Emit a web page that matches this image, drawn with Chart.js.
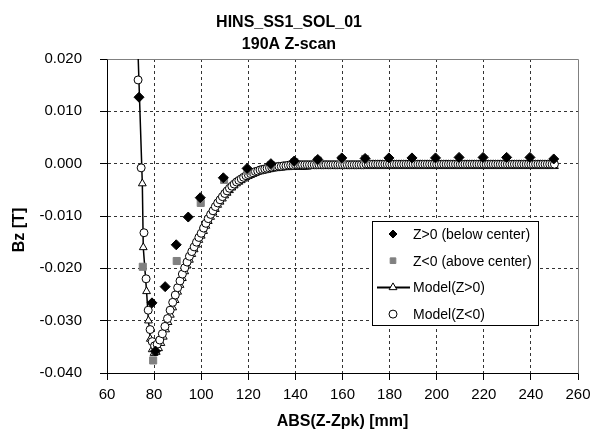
<!DOCTYPE html>
<html>
<head>
<meta charset="utf-8">
<script src="https://cdn.jsdelivr.net/npm/chart.js@4.4.1/dist/chart.umd.min.js"></script>
<style>
  html, body { margin: 0; padding: 0; background: #fff; }
  #wrap { width: 597px; height: 446px; }
</style>
</head>
<body>
<div id="wrap"><canvas id="chart" width="597" height="446"></canvas></div>
<script>
// Datos (Bz en T, posición en mm)
const xTicks = [60, 80, 100, 120, 140, 160, 180, 200, 220, 240, 260];
const yTicks = [-0.04, -0.03, -0.02, -0.01, 0.0, 0.01, 0.02];

// Medición Z>0 (debajo del centro)
const measPosX = [73.6, 79.1, 80.6, 84.7, 89.4, 94.5, 99.6, 109.4, 119.5, 129.6, 139.5, 149.5, 159.7, 169.6, 179.7, 189.5, 199.5, 209.5, 219.7, 229.7, 239.6, 249.7];
const measPosB = [0.0127, -0.0266, -0.0358, -0.0235, -0.0155, -0.0102, -0.0065, -0.0027, -0.0009, 0.0000, 0.0005, 0.0008, 0.0011, 0.0010, 0.0011, 0.0011, 0.0011, 0.0012, 0.0012, 0.0012, 0.0012, 0.0009];

// Medición Z<0 (encima del centro)
const measNegX = [75.2, 79.6, 89.6, 99.8, 109.7, 119.6, 129.6, 139.6, 149.5, 159.6, 169.6];
const measNegB = [-0.0197, -0.0376, -0.0186, -0.0075, -0.0031, -0.0014, -0.0003, 0.0003, 0.0006, 0.0008, 0.0009];

// Modelo: tramo inicial (cerca del pico) de cada curva
const modelPosLeftX = [72.6, 75.0, 75.4, 76.8, 77.6, 78.4, 79.2, 80.0, 80.9, 81.9, 82.9, 83.9, 84.9, 85.9, 86.9, 87.9, 88.9];
const modelPosLeftB = [0.0290, -0.0038, -0.0160, -0.0244, -0.0300, -0.0335, -0.0355, -0.0362, -0.0360, -0.0353, -0.0343, -0.0331, -0.0317, -0.0303, -0.0289, -0.0275, -0.0261];
const modelNegLeftX = [73.2, 74.5, 75.7, 76.6, 77.5, 78.3, 79.2, 80.2, 81.3, 82.4, 83.5, 84.6, 85.7, 86.8, 87.9, 89.0];
const modelNegLeftB = [0.0160, -0.0008, -0.0132, -0.0220, -0.0280, -0.0317, -0.0340, -0.0348, -0.0345, -0.0337, -0.0325, -0.0311, -0.0296, -0.0280, -0.0265, -0.0251];

// Modelo: resto de la curva, cada 1 mm
const modelTailX = [
  90, 91, 92, 93, 94, 95, 96, 97, 98, 99,
  100, 101, 102, 103, 104, 105, 106, 107, 108, 109,
  110, 111, 112, 113, 114, 115, 116, 117, 118, 119,
  120, 121, 122, 123, 124, 125, 126, 127, 128, 129,
  130, 131, 132, 133, 134, 135, 136, 137, 138, 139,
  140, 141, 142, 143, 144, 145, 146, 147, 148, 149,
  150, 151, 152, 153, 154, 155, 156, 157, 158, 159,
  160, 161, 162, 163, 164, 165, 166, 167, 168, 169,
  170, 171, 172, 173, 174, 175, 176, 177, 178, 179,
  180, 181, 182, 183, 184, 185, 186, 187, 188, 189,
  190, 191, 192, 193, 194, 195, 196, 197, 198, 199,
  200, 201, 202, 203, 204, 205, 206, 207, 208, 209,
  210, 211, 212, 213, 214, 215, 216, 217, 218, 219,
  220, 221, 222, 223, 224, 225, 226, 227, 228, 229,
  230, 231, 232, 233, 234, 235, 236, 237, 238, 239,
  240, 241, 242, 243, 244, 245, 246, 247, 248, 249,
  250
];
const modelPosTailB = [
  -0.0245, -0.0232, -0.0219, -0.0206, -0.0195, -0.0184, -0.0173, -0.0164, -0.0155, -0.0146,
  -0.0138, -0.0129, -0.0119, -0.0110, -0.0102, -0.0094, -0.0087, -0.0079, -0.0073, -0.0067,
  -0.0061, -0.0056, -0.0051, -0.0046, -0.0042, -0.0038, -0.0035, -0.0032, -0.0029, -0.0026,
  -0.0024, -0.0022, -0.0020, -0.0018, -0.0016, -0.0015, -0.0014, -0.0013, -0.0012, -0.0011,
  -0.0010, -0.0009, -0.0009, -0.0008, -0.0008, -0.0007, -0.0007, -0.0007, -0.0006, -0.0006,
  -0.0006, -0.0006, -0.0006, -0.0006, -0.0006, -0.0006, -0.0005, -0.0005, -0.0005, -0.0005,
  -0.0005, -0.0005, -0.0005, -0.0005, -0.0005, -0.0005, -0.0005, -0.0005, -0.0005, -0.0005,
  -0.0005, -0.0005, -0.0005, -0.0005, -0.0005, -0.0005, -0.0005, -0.0005, -0.0005, -0.0005,
  -0.0005, -0.0005, -0.0005, -0.0005, -0.0005, -0.0005, -0.0005, -0.0005, -0.0005, -0.0005,
  -0.0005, -0.0005, -0.0005, -0.0005, -0.0005, -0.0005, -0.0005, -0.0005, -0.0005, -0.0005,
  -0.0005, -0.0005, -0.0005, -0.0005, -0.0005, -0.0005, -0.0005, -0.0005, -0.0005, -0.0005,
  -0.0005, -0.0005, -0.0005, -0.0005, -0.0005, -0.0005, -0.0005, -0.0005, -0.0005, -0.0005,
  -0.0005, -0.0005, -0.0005, -0.0005, -0.0005, -0.0005, -0.0005, -0.0005, -0.0005, -0.0005,
  -0.0005, -0.0005, -0.0005, -0.0005, -0.0005, -0.0005, -0.0005, -0.0005, -0.0005, -0.0005,
  -0.0005, -0.0005, -0.0005, -0.0005, -0.0005, -0.0005, -0.0005, -0.0005, -0.0005, -0.0005,
  -0.0005, -0.0005, -0.0005, -0.0005, -0.0005, -0.0005, -0.0005, -0.0005, -0.0005, -0.0005,
  -0.0005
];
const modelNegTailB = [
  -0.0237, -0.0224, -0.0211, -0.0199, -0.0188, -0.0177, -0.0168, -0.0159, -0.0150, -0.0141,
  -0.0133, -0.0123, -0.0114, -0.0105, -0.0097, -0.0090, -0.0082, -0.0075, -0.0069, -0.0063,
  -0.0057, -0.0052, -0.0047, -0.0043, -0.0039, -0.0035, -0.0032, -0.0029, -0.0026, -0.0023,
  -0.0021, -0.0019, -0.0017, -0.0015, -0.0014, -0.0012, -0.0011, -0.0010, -0.0009, -0.0008,
  -0.0007, -0.0006, -0.0006, -0.0005, -0.0005, -0.0004, -0.0004, -0.0003, -0.0003, -0.0003,
  -0.0002, -0.0002, -0.0002, -0.0002, -0.0002, -0.0002, -0.0002, -0.0002, -0.0002, -0.0002,
  -0.0002, -0.0002, -0.0002, -0.0002, -0.0002, -0.0002, -0.0002, -0.0002, -0.0002, -0.0002,
  -0.0002, -0.0002, -0.0002, -0.0002, -0.0002, -0.0002, -0.0002, -0.0002, -0.0002, -0.0002,
  -0.0001, -0.0001, -0.0001, -0.0001, -0.0001, -0.0001, -0.0001, -0.0001, -0.0001, -0.0001,
  -0.0001, -0.0001, -0.0001, -0.0001, -0.0001, -0.0001, -0.0001, -0.0001, -0.0001, -0.0001,
  -0.0001, -0.0001, -0.0001, -0.0001, -0.0001, -0.0001, -0.0001, -0.0001, -0.0001, -0.0001,
  -0.0001, -0.0001, -0.0001, -0.0001, -0.0001, -0.0001, -0.0001, -0.0001, -0.0001, -0.0001,
  -0.0001, -0.0001, -0.0001, -0.0001, -0.0001, -0.0001, -0.0001, -0.0001, -0.0001, -0.0001,
  -0.0001, -0.0001, -0.0001, -0.0001, -0.0001, -0.0001, -0.0001, -0.0001, -0.0001, -0.0001,
  -0.0001, -0.0001, -0.0001, -0.0001, -0.0001, -0.0001, -0.0001, -0.0001, -0.0001, -0.0001,
  -0.0001, -0.0001, -0.0001, -0.0001, -0.0001, -0.0001, -0.0001, -0.0001, -0.0001, -0.0001,
  -0.0001
];

const FONT = "'Liberation Sans', Arial, sans-serif";
const GRAY = '#808080';

// Une arrays x / y en puntos {x, y} para el scatter
function toPoints(xs, ys) {
    return xs.map((x, i) => ({ x, y: ys[i] }));
}

// Leyenda dentro del área de la gráfica (recuadro con borde negro)
const legendRows = [
    { text: 'Z>0 (below center)', style: 'rectRot', radius: 4, fill: '#000', stroke: '#000' },
    { text: 'Z<0 (above center)', style: 'rect', radius: 4, fill: GRAY, stroke: GRAY },
    { text: 'Model(Z>0)', style: 'triangle', radius: 4.5, fill: '#fff', stroke: '#000', line: true },
    { text: 'Model(Z<0)', style: 'circle', radius: 4, fill: '#fff', stroke: '#000' }
];

const boxLegend = {
    id: 'boxLegend',
    beforeDatasetsDraw(chart) {
        // borde gris del área de trazado (arriba y derecha)
        const { ctx, chartArea: a } = chart;
        ctx.save();
        ctx.strokeStyle = GRAY;
        ctx.lineWidth = 1;
        ctx.beginPath();
        ctx.moveTo(Math.round(a.left) + 0.5, Math.round(a.top) + 0.5);
        ctx.lineTo(Math.round(a.right) + 0.5, Math.round(a.top) + 0.5);
        ctx.lineTo(Math.round(a.right) + 0.5, Math.round(a.bottom) + 0.5);
        ctx.stroke();
        // título del eje Y (en el original va algo por debajo del centro)
        ctx.translate(20, 230);
        ctx.rotate(-Math.PI / 2);
        ctx.fillStyle = '#000';
        ctx.font = 'bold 16px ' + FONT;
        ctx.textAlign = 'center';
        ctx.textBaseline = 'middle';
        ctx.fillText('Bz [T]', 0, 0);
        ctx.restore();
    },
    afterDatasetsDraw(chart) {
        const ctx = chart.ctx;
        ctx.save();
        ctx.fillStyle = '#fff';
        ctx.fillRect(372.5, 221.5, 166, 104);
        ctx.strokeStyle = '#000';
        ctx.lineWidth = 1;
        ctx.strokeRect(372.5, 221.5, 166, 104);
        legendRows.forEach((row, i) => {
            const y = 234 + i * 26.7;
            if (row.line) {
                ctx.strokeStyle = '#000';
                ctx.lineWidth = 2;
                ctx.beginPath();
                ctx.moveTo(377, y);
                ctx.lineTo(410, y);
                ctx.stroke();
            }
            ctx.fillStyle = row.fill;
            ctx.strokeStyle = row.stroke;
            ctx.lineWidth = 1;
            Chart.helpers.drawPoint(ctx, { pointStyle: row.style, radius: row.radius, borderWidth: 1, rotation: 0 }, 393, y);
            ctx.fillStyle = '#000';
            ctx.font = '14px ' + FONT;
            ctx.textAlign = 'left';
            ctx.textBaseline = 'middle';
            ctx.fillText(row.text, 413, y + 1);
        });
        ctx.restore();
    }
};

new Chart(document.getElementById('chart'), {
    type: 'scatter',
    data: {
        datasets: [
            {
                label: 'Z>0 (below center)',
                data: toPoints(measPosX, measPosB),
                pointStyle: 'rectRot', pointRadius: 5, backgroundColor: '#000', borderColor: '#000', borderWidth: 1,
                showLine: false, order: 0
            },
            {
                label: 'Z<0 (above center)',
                data: toPoints(measNegX, measNegB),
                pointStyle: 'rect', pointRadius: 5, backgroundColor: GRAY, borderColor: GRAY, borderWidth: 1,
                showLine: false, order: 1
            },
            {
                label: 'Model(Z>0)',
                data: toPoints(modelPosLeftX.concat(modelTailX), modelPosLeftB.concat(modelPosTailB)),
                pointStyle: 'triangle', pointRadius: 4.5, pointBackgroundColor: '#fff', pointBorderColor: '#000', pointBorderWidth: 1,
                borderColor: '#000', borderWidth: 1.5, showLine: true, tension: 0, order: 3
            },
            {
                label: 'Model(Z<0)',
                data: toPoints(modelNegLeftX.concat(modelTailX), modelNegLeftB.concat(modelNegTailB)),
                pointStyle: 'circle', pointRadius: 4, backgroundColor: '#fff', borderColor: '#000', borderWidth: 1,
                showLine: false, order: 2
            }
        ]
    },
    options: {
        responsive: false,
        animation: false,
        layout: { padding: { top: 0, right: 19, bottom: 0, left: 0 } },
        plugins: {
            legend: { display: false },
            tooltip: { enabled: false },
            title: {
                display: true,
                text: ['HINS_SS1_SOL_01', '190A Z-scan'],
                color: '#000',
                font: { family: FONT, size: 16, weight: 'bold', lineHeight: 1.375 },
                padding: { top: 12, bottom: 3 }
            }
        },
        scales: {
            x: {
                type: 'linear', min: 60, max: 260,
                afterBuildTicks: (s) => { s.ticks = xTicks.map((v) => ({ value: v })); },
                afterFit: (s) => { s.height = 73; },
                ticks: { color: '#000', font: { family: FONT, size: 15 }, padding: 6, maxRotation: 0, callback: (v) => String(v) },
                grid: {
                    color: (c) => (c.tick && c.tick.value === 260 ? 'rgba(0,0,0,0)' : '#333'),
                    lineWidth: 1, tickColor: '#000', tickLength: 7
                },
                border: { color: '#000', width: 1, dash: [3, 3] },
                title: { display: true, text: 'ABS(Z-Zpk) [mm]', color: '#000', font: { family: FONT, size: 16, weight: 'bold' }, padding: { top: 0, bottom: 15 } }
            },
            y: {
                type: 'linear', min: -0.04, max: 0.02,
                afterBuildTicks: (s) => { s.ticks = yTicks.map((v) => ({ value: v })); },
                afterFit: (s) => { s.width = 107; },
                ticks: { color: '#000', font: { family: FONT, size: 15 }, padding: 18, callback: (v) => Number(v).toFixed(3) },
                grid: {
                    color: (c) => (c.tick && c.tick.value === 0.02 ? 'rgba(0,0,0,0)' : '#333'),
                    lineWidth: 1, tickColor: '#000', tickLength: 7
                },
                border: { color: '#000', width: 1, dash: [3, 3] },
                title: { display: false }
            }
        }
    },
    plugins: [boxLegend]
});
</script>
</body>
</html>
